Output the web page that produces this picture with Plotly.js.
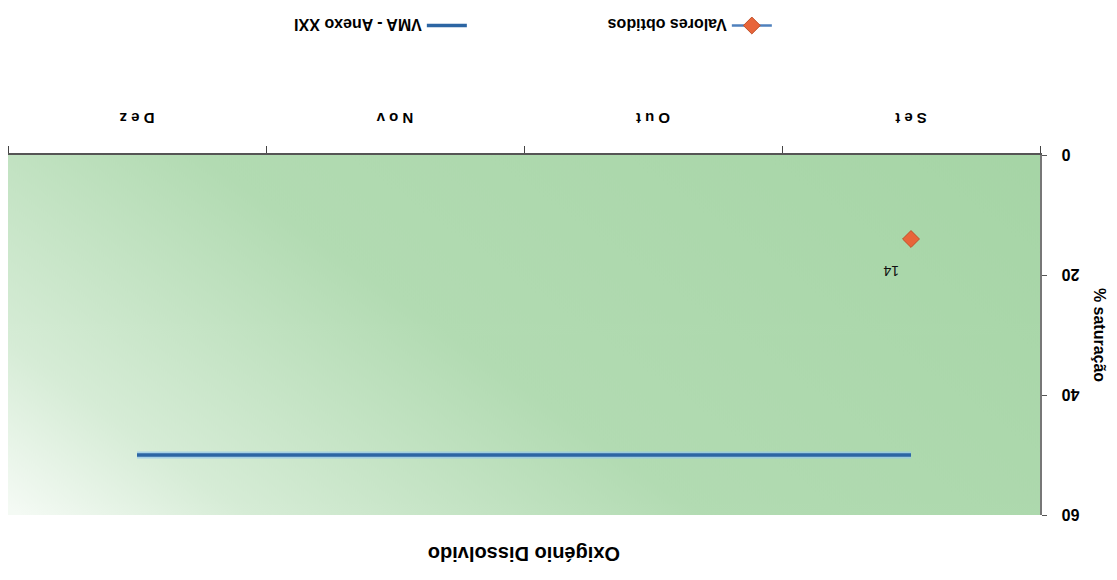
<!DOCTYPE html>
<html>
<head>
<meta charset="utf-8">
<script src="https://cdn.plot.ly/plotly-3.0.1.min.js"></script>
<style>
html,body{margin:0;padding:0;background:#fff;}
#wrap{width:1117px;height:580px;transform:rotate(180deg);transform-origin:50% 50%;}
#chart{width:1117px;height:580px;}
</style>
</head>
<body>
<div id="wrap"><div id="chart"></div></div>
<script>
const months = ["Set", "Out", "Nov", "Dez"];
const valoresObtidos = [14, null, null, null];
const vma = [50, 50, 50, 50];
const yTicks = [0, 20, 40, 60];

// gradient background image for the plot area
const cv = document.createElement("canvas");
cv.width = 1032; cv.height = 362;
const ctx = cv.getContext("2d");
const g = ctx.createLinearGradient(0, 362, 520, -360);
g.addColorStop(0, "#a6d5a6");
g.addColorStop(0.55, "#b2dbb2");
g.addColorStop(0.85, "#d6ecd6");
g.addColorStop(1, "#f4faf4");
ctx.fillStyle = g;
ctx.fillRect(0, 0, 1032, 362);
const bg = cv.toDataURL("image/png");

const traces = [
  {
    x: months, y: vma, type: "scatter", mode: "lines", showlegend: false, hoverinfo: "skip",
    line: {color: "rgba(150,200,235,0.7)", width: 7}
  },
  {
    x: months, y: valoresObtidos, type: "scatter", mode: "lines+markers",
    name: "Valores obtidos",
    line: {color: "#4f81bd", width: 2.5},
    marker: {symbol: "diamond", size: 13, color: "#e8653a", line: {color: "#c0502a", width: 1}},
    cliponaxis: false
  },
  {
    x: months, y: vma, type: "scatter", mode: "lines",
    name: "VMA - Anexo XXI",
    line: {color: "#2c65a3", width: 3.5}
  }
];

const annotations = [];
valoresObtidos.forEach((v, i) => {
  if (v !== null) annotations.push({
    x: months[i], y: v, text: String(v), showarrow: false,
    xshift: 20, yshift: 32, font: {family: "Arial", size: 14, color: "#111"}
  });
});

const layout = {
  width: 1117, height: 580,
  margin: {l: 77, r: 8, t: 65, b: 153},
  paper_bgcolor: "#ffffff",
  plot_bgcolor: "rgba(0,0,0,0)",
  font: {family: "Arial, Liberation Sans, sans-serif", color: "#000"},
  title: {text: "<b>Oxigénio Dissolvido</b>", x: 0.531, xanchor: "center", y: 0.955, yanchor: "middle",
          font: {size: 20, family: "Arial", color: "#000"}},
  images: [{source: bg, xref: "paper", yref: "paper", x: 0, y: 1, sizex: 1, sizey: 1,
            sizing: "stretch", layer: "below", xanchor: "left", yanchor: "top"}],
  xaxis: {
    type: "category", categoryorder: "array", categoryarray: months,
    range: [-0.5, 3.5], tickson: "boundaries", ticks: "outside", ticklen: 7,
    tickcolor: "#444", showline: true, linecolor: "#555", linewidth: 2,
    showgrid: false, zeroline: false, ticklabelstandoff: 22,
    tickvals: months, ticktext: months.map(m => "<b>" + m.split("").join(" ") + "</b>"),
    tickfont: {size: 15, family: "Arial", color: "#000"}
  },
  yaxis: {
    range: [0, 60], tickvals: yTicks, ticktext: yTicks.map(v => "<b>" + v + "</b>"),
    ticks: "outside", ticklen: 5, tickcolor: "#555",
    showline: true, linecolor: "#777", linewidth: 1.5,
    showgrid: false, zeroline: false, ticklabelstandoff: 12,
    tickfont: {size: 16, family: "Arial", color: "#000"},
    title: {text: "<b>% saturação</b>", font: {size: 16, family: "Arial", color: "#000"}, standoff: 10}
  },
  legend: {orientation: "h", x: 0.255, xanchor: "left", y: -0.36, yanchor: "middle",
           entrywidth: 250, entrywidthmode: "pixels", traceorder: "normal",
           font: {size: 16, family: "Arial", color: "#000", weight: "bold"}, itemwidth: 40, bgcolor: "rgba(0,0,0,0)"},
  annotations: annotations,
  showlegend: true
};

Plotly.newPlot("chart", traces, layout, {displayModeBar: false, staticPlot: true});
</script>
</body>
</html>
